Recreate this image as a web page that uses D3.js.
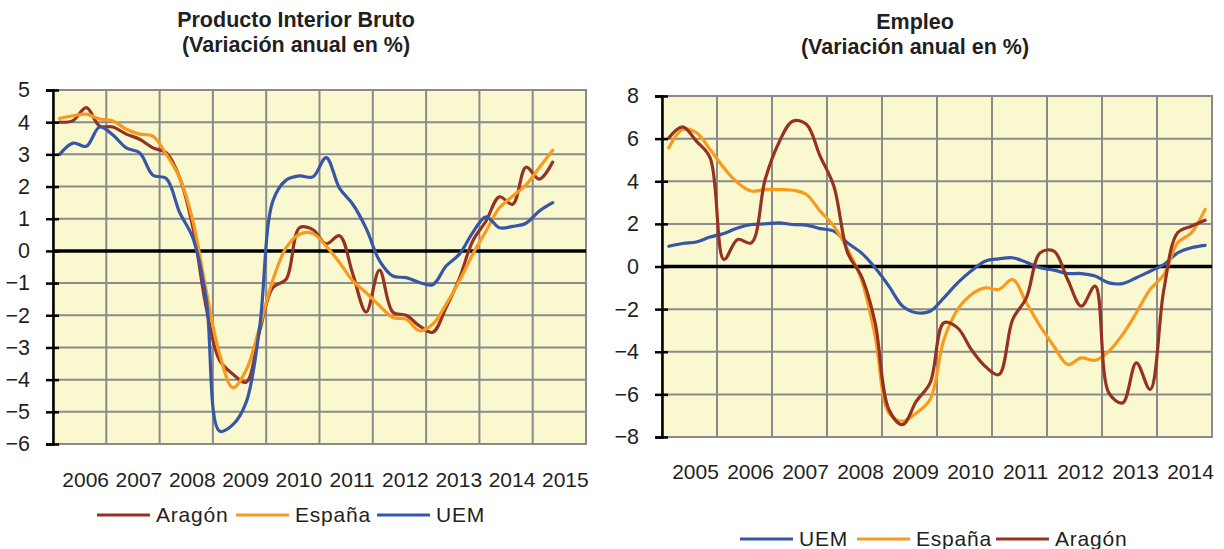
<!DOCTYPE html>
<html>
<head>
<meta charset="utf-8">
<script src="https://cdn.jsdelivr.net/npm/d3@7"></script>
<style>
	body { margin: 0; background: #fff; }
	svg { display: block; font-family: "Liberation Sans", Arial, sans-serif; }
</style>
</head>
<body>
<svg id="chart" width="1224" height="549"></svg>
<script>
// PIB, quarterly from 2006Q1
const pibYears = ['2006', '2007', '2008', '2009', '2010', '2011', '2012', '2013', '2014', '2015'];
const pibAragon = [4.0, 4.05, 4.45, 3.88, 3.85, 3.63, 3.47, 3.2, 3.05, 2.28,
	0.72, -1.76, -3.4, -3.83, -4.08, -2.5, -1.14, -0.88, 0.72, 0.66,
	0.22, 0.47, -0.72, -1.9, -0.6, -1.9, -2.0, -2.33, -2.53, -1.76,
	-0.85, 0.31, 0.93, 1.68, 1.45, 2.6, 2.23, 2.76];
const pibEspana = [4.12, 4.2, 4.25, 4.1, 4.04, 3.78, 3.63, 3.57, 3.0, 2.28,
	0.93, -1.24, -3.2, -4.25, -3.7, -2.38, -0.9, 0.1, 0.52, 0.54,
	0.15, -0.36, -0.93, -1.3, -1.7, -2.07, -2.12, -2.48, -2.28, -1.66,
	-0.93, -0.1, 0.62, 1.34, 1.7, 2.05, 2.59, 3.13];
const pibUem = [3.0, 3.35, 3.25, 3.85, 3.6, 3.2, 3.05, 2.35, 2.25, 1.2,
	0.4, -1.5, -5.6, -5.4, -4.7, -2.4, 1.55, 2.2, 2.33, 2.3,
	2.9, 1.95, 1.45, 0.7, -0.3, -0.78, -0.83, -0.98, -1.05, -0.47,
	-0.1, 0.57, 1.06, 0.72, 0.76, 0.86, 1.24, 1.5];
const pibTicks = [5, 4, 3, 2, 1, 0, -1, -2, -3, -4, -5, -6];

// Empleo, quarterly from 2005Q1
const empleoYears = ['2005', '2006', '2007', '2008', '2009', '2010', '2011', '2012', '2013', '2014'];
const empleoUem = [0.95, 1.08, 1.15, 1.38, 1.55, 1.81, 1.97, 2.0, 2.05, 1.97,
	1.94, 1.78, 1.66, 1.1, 0.64, -0.06, -0.92, -1.86, -2.17, -2.1,
	-1.47, -0.77, -0.2, 0.25, 0.36, 0.41, 0.2, -0.06, -0.17, -0.33,
	-0.33, -0.45, -0.77, -0.8, -0.53, -0.22, 0.09, 0.64, 0.88, 0.99];
const empleoEspana = [5.57, 6.43, 6.28, 5.49, 4.63, 3.93, 3.54, 3.61, 3.61, 3.58,
	3.38, 2.6, 1.89, 0.8, -0.61, -3.27, -6.87, -7.26, -6.87, -6.24,
	-3.43, -2.02, -1.31, -1.0, -1.08, -0.61, -1.7, -2.8, -3.74, -4.6,
	-4.29, -4.4, -3.98, -3.19, -2.17, -1.08, -0.38, 1.11, 1.58, 2.68];
const empleoAragon = [6.04, 6.55, 5.88, 5.1, 0.33, 1.27, 1.11, 4.08, 5.81, 6.82,
	6.67, 5.18, 3.77, 0.64, -0.45, -2.64, -6.71, -7.42, -6.32, -5.46,
	-2.64, -2.88, -3.9, -4.68, -5.07, -2.49, -1.47, 0.64, 0.72, -0.61,
	-1.86, -0.92, -5.93, -6.4, -4.52, -5.77, -1.08, 1.58, 1.89, 2.17];
const empleoTicks = [8, 6, 4, 2, 0, -2, -4, -6, -8];

const colors = {
	aragon: '#963222',
	espana: '#F99A1E',
	uem: '#3656A6',
};

const svg = d3.select('#chart');

function drawPanel(cfg) {
	const g = svg.append('g');
	const nQ = cfg.years.length * 4;
	const x = d3.scaleLinear().domain([0, nQ]).range([cfg.left, cfg.right]);
	const y = d3.scaleLinear().domain(d3.extent(cfg.ticks)).range([cfg.bottom, cfg.top]);

	g.append('rect')
		.attr('x', cfg.left)
		.attr('y', cfg.top)
		.attr('width', cfg.right - cfg.left)
		.attr('height', cfg.bottom - cfg.top)
		.attr('fill', '#FAF8CF')
		.attr('stroke', '#8a8a8a')
		.attr('stroke-width', 2);

	// horizontal grid
	g.selectAll('.hgrid')
		.data(cfg.ticks)
		.enter()
		.append('line')
		.attr('x1', cfg.left)
		.attr('x2', cfg.right)
		.attr('y1', d => y(d))
		.attr('y2', d => y(d))
		.attr('stroke', '#8a8a8a')
		.attr('stroke-width', 2);

	// vertical grid, one per year
	g.selectAll('.vgrid')
		.data(d3.range(1, cfg.years.length))
		.enter()
		.append('line')
		.attr('x1', d => x(d * 4))
		.attr('x2', d => x(d * 4))
		.attr('y1', cfg.top)
		.attr('y2', cfg.bottom)
		.attr('stroke', '#8a8a8a')
		.attr('stroke-width', 2);

	// zero line
	g.append('line')
		.attr('x1', cfg.left)
		.attr('x2', cfg.right)
		.attr('y1', y(0))
		.attr('y2', y(0))
		.attr('stroke', '#000')
		.attr('stroke-width', 3.5);

	const line = d3.line()
		.x((d, i) => x(i + 0.5))
		.y(d => y(d))
		.curve(d3.curveCatmullRom.alpha(0.5));

	cfg.series.forEach(s => {
		g.append('path')
			.datum(s.values)
			.attr('d', line)
			.attr('fill', 'none')
			.attr('stroke', s.color)
			.attr('stroke-width', 3.2)
			.attr('stroke-linejoin', 'round')
			.attr('stroke-linecap', 'round');
	});

	// y axis
	const yAxis = g.append('g')
		.attr('transform', `translate(${cfg.left},0)`)
		.call(d3.axisLeft(y).tickValues(cfg.ticks).tickSize(7).tickPadding(16));
	yAxis.select('.domain').attr('stroke', '#000').attr('stroke-width', 2.5);
	yAxis.selectAll('.tick line')
		.attr('x1', 6)
		.attr('x2', -7)
		.attr('stroke', '#000')
		.attr('stroke-width', 2.5);
	yAxis.selectAll('.tick text')
		.attr('font-size', 21.5)
		.attr('fill', '#231F20')
		.attr('font-family', '"Liberation Sans", Arial, sans-serif');

	// x labels, one per year
	g.selectAll('.xlabel')
		.data(cfg.years)
		.enter()
		.append('text')
		.attr('x', (d, i) => x(i * 4 + 2) + 6)
		.attr('y', cfg.xLabelY)
		.attr('text-anchor', 'middle')
		.attr('font-size', 21)
		.attr('fill', '#231F20')
		.text(d => d);

	// titles
	cfg.title.forEach((t, i) => {
		g.append('text')
			.attr('x', cfg.titleX)
			.attr('y', cfg.titleY + i * 25)
			.attr('text-anchor', 'middle')
			.attr('font-size', 21.5)
			.attr('font-weight', 'bold')
			.attr('fill', '#231F20')
			.text(t);
	});

	// legend
	cfg.series.forEach(s => {
		g.append('line')
			.attr('x1', s.legendX)
			.attr('x2', s.legendX + 53)
			.attr('y1', cfg.legendY - 7)
			.attr('y2', cfg.legendY - 7)
			.attr('stroke', s.color)
			.attr('stroke-width', 3);
		g.append('text')
			.attr('x', s.legendX + 59)
			.attr('y', cfg.legendY)
			.attr('font-size', 21)
			.attr('letter-spacing', 0.8)
			.attr('fill', '#231F20')
			.text(s.name);
	});
}

drawPanel({
	years: pibYears,
	ticks: pibTicks,
	left: 53, right: 586, top: 90, bottom: 444,
	xLabelY: 487,
	title: ['Producto Interior Bruto', '(Variación anual en %)'],
	titleX: 296, titleY: 27,
	legendY: 522,
	series: [
		{ name: 'Aragón', values: pibAragon, color: colors.aragon, legendX: 97 },
		{ name: 'España', values: pibEspana, color: colors.espana, legendX: 236 },
		{ name: 'UEM', values: pibUem, color: colors.uem, legendX: 377 },
	],
});

drawPanel({
	years: empleoYears,
	ticks: empleoTicks,
	left: 662, right: 1212, top: 96, bottom: 437,
	xLabelY: 479,
	title: ['Empleo', '(Variación anual en %)'],
	titleX: 915, titleY: 29,
	legendY: 546,
	series: [
		{ name: 'UEM', values: empleoUem, color: colors.uem, legendX: 740 },
		{ name: 'España', values: empleoEspana, color: colors.espana, legendX: 857 },
		{ name: 'Aragón', values: empleoAragon, color: colors.aragon, legendX: 996 },
	],
});
</script>
</body>
</html>
